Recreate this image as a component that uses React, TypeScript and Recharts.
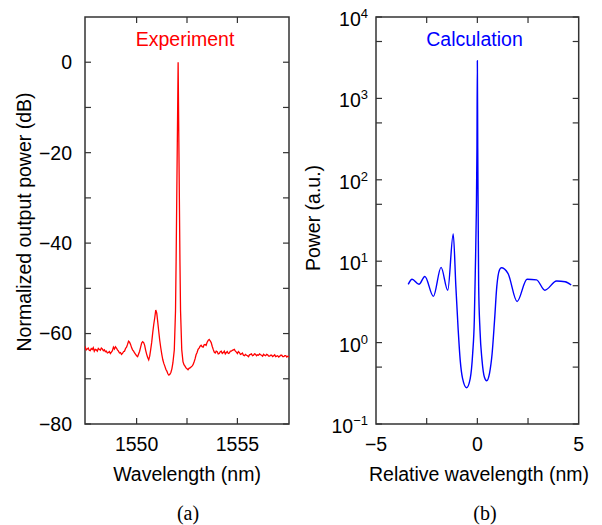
import React from 'react';
import { LineChart, Line, XAxis, YAxis, ReferenceArea } from 'recharts';

// ---------- Experiment (panel a) ----------
const expWavelength = [
  1547.40, 1547.45, 1547.50, 1547.55, 1547.60, 1547.65, 1547.70, 1547.75, 1547.80, 1547.85,
  1547.90, 1547.95, 1548.00, 1548.05, 1548.10, 1548.15, 1548.20, 1548.25, 1548.30, 1548.35,
  1548.40, 1548.45, 1548.50, 1548.55, 1548.60, 1548.65, 1548.70, 1548.75, 1548.80, 1548.85,
  1548.90, 1548.95, 1549.00, 1549.05, 1549.10, 1549.15, 1549.20, 1549.25, 1549.30, 1549.35,
  1549.40, 1549.45, 1549.50, 1549.55, 1549.60, 1549.65, 1549.70, 1549.75, 1549.80, 1549.85,
  1549.90, 1549.95, 1550.00, 1550.05, 1550.10, 1550.15, 1550.20, 1550.25, 1550.30, 1550.35,
  1550.40, 1550.45, 1550.50, 1550.55, 1550.60, 1550.65, 1550.70, 1550.75, 1550.80, 1550.85,
  1550.90, 1550.95, 1551.00, 1551.05, 1551.10, 1551.15, 1551.20, 1551.25, 1551.30, 1551.35,
  1551.40, 1551.45, 1551.50, 1551.55, 1551.60, 1551.65, 1551.70, 1551.75, 1551.80, 1551.87,
  1551.93, 1551.96, 1552.06, 1552.15, 1552.18, 1552.24, 1552.30, 1552.35, 1552.40, 1552.45,
  1552.50, 1552.55, 1552.60, 1552.65, 1552.70, 1552.75, 1552.80, 1552.85, 1552.90, 1552.95,
  1553.00, 1553.05, 1553.10, 1553.15, 1553.20, 1553.25, 1553.30, 1553.35, 1553.40, 1553.45,
  1553.50, 1553.55, 1553.60, 1553.65, 1553.70, 1553.75, 1553.80, 1553.85, 1553.90, 1553.95,
  1554.00, 1554.05, 1554.10, 1554.15, 1554.20, 1554.25, 1554.30, 1554.35, 1554.40, 1554.45,
  1554.50, 1554.55, 1554.60, 1554.65, 1554.70, 1554.75, 1554.80, 1554.85, 1554.90, 1554.95,
  1555.00, 1555.05, 1555.10, 1555.15, 1555.20, 1555.25, 1555.30, 1555.35, 1555.40, 1555.45,
  1555.50, 1555.55, 1555.60, 1555.65, 1555.70, 1555.75, 1555.80, 1555.85, 1555.90, 1555.95,
  1556.00, 1556.05, 1556.10, 1556.15, 1556.20, 1556.25, 1556.30, 1556.35, 1556.40, 1556.45,
  1556.50, 1556.55, 1556.60, 1556.65, 1556.70, 1556.75, 1556.80, 1556.85, 1556.90, 1556.95,
  1557.00, 1557.05, 1557.10, 1557.15, 1557.20, 1557.25, 1557.30, 1557.35, 1557.40, 1557.45,
  1557.50, 1557.55, 1557.60,
];
const expPower = [
  -63.3, -63.0, -63.6, -63.4, -63.2, -63.7, -63.8, -63.3, -63.5, -63.1,
  -63.9, -63.5, -63.6, -63.9, -63.3, -63.5, -63.7, -63.2, -63.4, -63.8,
  -63.6, -64.0, -63.9, -64.3, -64.2, -64.0, -64.4, -64.1, -63.8, -63.0,
  -63.4, -62.9, -63.2, -63.6, -63.9, -64.3, -64.2, -64.6, -64.4, -64.0,
  -63.9, -63.3, -63.0, -62.4, -61.7, -61.9, -62.4, -63.1, -63.6, -63.9,
  -64.3, -64.6, -64.9, -65.1, -64.5, -63.9, -63.0, -62.1, -61.8, -62.0,
  -62.6, -63.7, -64.6, -65.3, -65.8, -65.0, -63.5, -61.9, -59.8, -58.0,
  -56.5, -54.8, -55.5, -57.5, -59.6, -61.6, -63.2, -64.6, -65.8, -66.6,
  -67.2, -67.9, -68.3, -68.9, -69.2, -69.0, -68.6, -67.8, -66.5, -63.6,
  -55.0, -44.0, 0.0, -44.0, -55.0, -63.6, -66.2, -66.9, -67.2, -67.6,
  -67.8, -68.0, -67.7, -67.6, -67.4, -67.2, -66.9, -66.3, -65.6, -64.7,
  -64.2, -63.5, -63.2, -62.8, -62.6, -62.9, -63.0, -62.5, -62.4, -62.6,
  -61.9, -61.5, -61.3, -61.6, -62.0, -62.8, -63.5, -64.1, -64.3, -63.9,
  -64.0, -64.5, -64.4, -64.0, -63.9, -64.4, -64.2, -63.9, -64.5, -64.2,
  -64.0, -64.4, -64.3, -63.9, -63.9, -63.7, -63.6, -63.5, -63.9, -64.1,
  -64.4, -64.0, -64.2, -64.6, -64.5, -64.3, -64.8, -64.9, -64.6, -64.8,
  -64.9, -65.1, -64.7, -64.6, -64.5, -64.9, -64.8, -64.5, -64.6, -64.9,
  -64.7, -64.8, -64.5, -64.7, -64.8, -65.0, -64.6, -64.8, -64.9, -64.6,
  -64.7, -65.0, -65.0, -64.8, -64.8, -65.1, -64.9, -64.7, -65.1, -65.0,
  -64.9, -65.2, -65.0, -64.8, -64.8, -65.1, -65.1, -64.9, -64.9, -65.2,
  -65.0, -65.1, -65.1,
];
const expXDomain = [1547.44, 1557.56];
const expYDomain = [-80, 10];
const expXTicks = [1550, 1552.5, 1555];
const expXLabels = [1550, 1555];
const expYTicks = [-80, -70, -60, -50, -40, -30, -20, -10, 0];
const expYLabels = [-80, -60, -40, -20, 0];

// ---------- Calculation (panel b) ----------
const calcWavelength = [
  -3.41, -3.22, -2.88, -2.59, -2.17, -1.79, -1.46, -1.19, -1.06, -0.945,
  -0.846, -0.73, -0.53, -0.35, -0.23, -0.15, -0.1, -0.05, -0.02, 0.0,
  0.02, 0.04, 0.065, 0.13, 0.23, 0.35, 0.46, 0.6, 0.73, 0.85,
  0.96, 1.09, 1.18, 1.51, 1.96, 2.45, 2.92, 3.33, 3.91, 4.33, 4.63,
];
const calcPower = [
  5.2, 6.0, 5.2, 6.5, 3.7, 8.4, 4.4, 21.6, 4.9, 1.43,
  0.61, 0.364, 0.279, 0.364, 0.74, 1.9, 7.8, 40, 240, 2900,
  240, 40, 4.9, 1.43, 0.61, 0.375, 0.34, 0.42, 0.74, 1.9,
  4.9, 7.8, 8.3, 7.1, 3.2, 6.0, 5.9, 4.4, 5.7, 5.6, 5.1,
];
const calcXDomain = [-5, 5];
const calcYDomain = [0.1, 10000];
const calcXTicks = [-2.5, 0, 2.5];
const calcXLabelTicks = [-5, -2.5, 0, 2.5, 5];
const calcXLabels = [-5, 0, 5];
const calcYTicks = [0.5, 1, 5, 10, 50, 100, 500, 1000, 5000, 10000, 0.1];

const expData = expWavelength.map((w, i) => ({ w, p: expPower[i] }));
const calcData = calcWavelength.map((w, i) => ({ w, p: calcPower[i] }));

// ---------- layout / style ----------
const SANS = '"Liberation Sans", Arial, Helvetica, sans-serif';
const SERIF = '"Liberation Serif", "Times New Roman", serif';
const FS = 19.5;
const AX = '#333333';
const TICK = 6;
const TOP = 17;
const BOTTOM = 424;
const A_LEFT = 85;
const A_RIGHT = 289;
const B_LEFT = 76;
const B_RIGHT = 278.7;

const fmt = (v: number) => String(v).replace('-', '\u2212');

function makeXTick(labels: number[], ticks: number[]) {
  return (props: any) => {
    const { x, y, payload } = props;
    const v = payload.value;
    return (
      <g>
        {ticks.includes(v) && (
          <>
            <line x1={x} x2={x} y1={BOTTOM} y2={BOTTOM - TICK} stroke={AX} strokeWidth={1.2} />
            <line x1={x} x2={x} y1={TOP} y2={TOP + TICK} stroke={AX} strokeWidth={1.2} />
          </>
        )}
        {labels.includes(v) && (
          <text x={x} y={y} dy="0.71em" textAnchor="middle" fontFamily={SANS} fontSize={FS} fill="#000">
            {fmt(v)}
          </text>
        )}
      </g>
    );
  };
}

function makeYTick(labels: number[], left: number, right: number) {
  return (props: any) => {
    const { x, y, payload } = props;
    const v = payload.value;
    return (
      <g>
        <line x1={left} x2={left + TICK} y1={y} y2={y} stroke={AX} strokeWidth={1.2} />
        <line x1={right} x2={right - TICK} y1={y} y2={y} stroke={AX} strokeWidth={1.2} />
        {labels.includes(v) && (
          <text x={x} y={y} dy="0.355em" textAnchor="end" fontFamily={SANS} fontSize={FS} fill="#000">
            {fmt(v)}
          </text>
        )}
      </g>
    );
  };
}

function makePowTick(left: number, right: number) {
  return (props: any) => {
    const { x, y, payload } = props;
    const v = payload.value;
    const e = Math.log10(v);
    const r = Math.round(e);
    const isPow = Math.abs(e - r) < 1e-6;
    const exp = r < 0 ? '\u2212' + Math.abs(r) : String(r);
    return (
      <g>
        <line x1={left} x2={left + TICK} y1={y} y2={y} stroke={AX} strokeWidth={1.2} />
        <line x1={right} x2={right - TICK} y1={y} y2={y} stroke={AX} strokeWidth={1.2} />
        {isPow && (
          <text x={x} y={y + 2} textAnchor="end" fontFamily={SANS} fontSize={FS} fill="#000">
            <tspan dy="0.36em">10</tspan>
            <tspan dy="-0.62em" fontSize={13}>{exp}</tspan>
          </text>
        )}
      </g>
    );
  };
}

export default function App() {
  return (
    <div style={{ position: 'absolute', left: 0, top: 0, width: 602, height: 525, background: '#fff' }}>
      <div style={{ position: 'absolute', left: 0, top: 0 }}>
        <LineChart width={300} height={525} data={expData} margin={{ top: TOP, right: 300 - A_RIGHT, bottom: 0, left: 0 }}>
          <XAxis dataKey="w" type="number" domain={expXDomain} ticks={expXTicks} interval={0}
            allowDataOverflow height={525 - BOTTOM} axisLine={false} tickLine={false} tickSize={0} tickMargin={13}
            tick={makeXTick(expXLabels, expXTicks)} />
          <YAxis type="number" domain={expYDomain} ticks={expYTicks} interval={0} allowDataOverflow
            width={A_LEFT} axisLine={false} tickLine={false} tickSize={0} tickMargin={13}
            tick={makeYTick(expYLabels, A_LEFT, A_RIGHT)} />
          <Line dataKey="p" type="linear" stroke="#ff0000" strokeWidth={1.3} dot={false} isAnimationActive={false} />
          <ReferenceArea x1={expXDomain[0]} x2={expXDomain[1]} y1={expYDomain[0]} y2={expYDomain[1]}
            fill="none" stroke={AX} strokeWidth={1.5} ifOverflow="visible" />
        </LineChart>
      </div>
      <div style={{ position: 'absolute', left: 300, top: 0 }}>
        <LineChart width={302} height={525} data={calcData} margin={{ top: TOP, right: 302 - B_RIGHT, bottom: 0, left: 0 }}>
          <XAxis dataKey="w" type="number" domain={calcXDomain} ticks={calcXLabelTicks} interval={0}
            allowDataOverflow height={525 - BOTTOM} axisLine={false} tickLine={false} tickSize={0} tickMargin={13}
            tick={makeXTick(calcXLabels, calcXTicks)} />
          <YAxis type="number" scale="log" domain={calcYDomain} ticks={calcYTicks} interval={0} allowDataOverflow
            width={B_LEFT} axisLine={false} tickLine={false} tickSize={0} tickMargin={8}
            tick={makePowTick(B_LEFT, B_RIGHT)} />
          <Line dataKey="p" type="monotone" stroke="#0000ff" strokeWidth={1.4} dot={false} isAnimationActive={false} />
          <ReferenceArea x1={calcXDomain[0]} x2={calcXDomain[1]} y1={calcYDomain[0]} y2={calcYDomain[1]}
            fill="none" stroke={AX} strokeWidth={1.5} ifOverflow="visible" />
        </LineChart>
      </div>
      <svg width={602} height={525} style={{ position: 'absolute', left: 0, top: 0, pointerEvents: 'none' }}>
        <g fontFamily={SANS} fontSize={FS}>
          <text x={185} y={46} textAnchor="middle" fill="#ff0000">Experiment</text>
          <text x={474.5} y={46} textAnchor="middle" fill="#0000ff">Calculation</text>
          <text x={30.5} y={222} textAnchor="middle" fill="#000" transform="rotate(-90, 30.5, 222)">Normalized output power (dB)</text>
          <text x={320} y={218} textAnchor="middle" fill="#000" transform="rotate(-90, 320, 218)">Power (a.u.)</text>
          <text x={187} y={481} textAnchor="middle" fill="#000">Wavelength (nm)</text>
          <text x={479} y={481} textAnchor="middle" fill="#000">Relative wavelength (nm)</text>
        </g>
        <g fontFamily={SERIF} fontSize={20} fill="#000">
          <text x={188} y={519.5} textAnchor="middle">(a)</text>
          <text x={485} y={519.5} textAnchor="middle">(b)</text>
        </g>
      </svg>
    </div>
  );
}
